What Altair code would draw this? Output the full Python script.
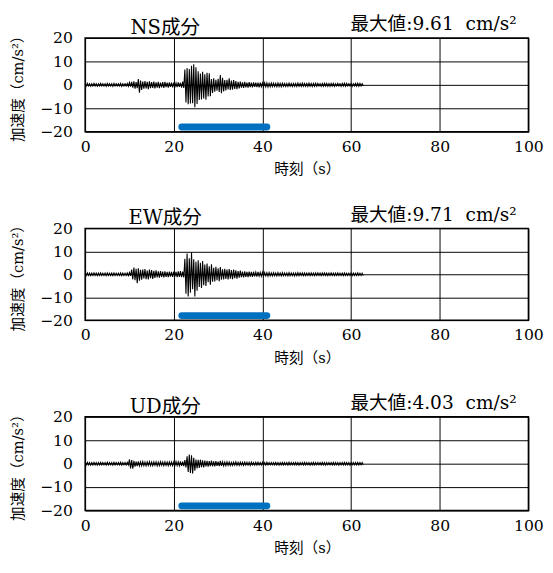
import altair as alt
import pandas as pd

# ---------------- data ----------------
STEP = 0.5  # s, sampling of the envelope readings (t = 0 ... 62.5 s)

# NS component: upper / lower envelope of the trace per 0.5 s
ns_hi = [0.5, 0.6, 0.5, 0.5, 0.6, 0.5, 0.5, 0.6, 0.5, 0.5,
         0.6, 0.5, 0.5, 0.6, 0.5, 0.5, 0.6, 0.5, 0.5, 0.6,
         1.0, 1.3, 1.5, 1.2, 2.5, 1.8, 1.4, 1.6, 1.3, 1.5,
         1.2, 1.4, 1.1, 1.3, 1.0, 1.2, 1.3, 1.0, 1.1, 0.9,
         1.0, 0.8, 1.1, 0.9, 1.4, 6.5, 7.2, 6.8, 8.2, 8.8,
         7.5, 5.8, 4.8, 5.6, 4.5, 5.2, 4.9, 2.5, 2.8, 2.2,
         2.6, 4.2, 3.0, 2.0, 2.2, 2.8, 1.8, 2.0, 1.6, 1.3,
         1.4, 1.1, 1.3, 1.0, 1.2, 0.9, 1.1, 1.0, 0.9, 1.0,
         0.8, 0.9, 0.8, 0.7, 0.8,
         0.7, 0.6, 0.8, 0.6, 0.7, 0.6, 0.6, 0.7, 0.6, 0.6,
         0.6, 0.7, 0.6, 0.7, 0.6, 0.6, 0.7, 0.6, 0.6, 0.7,
         0.6, 0.5, 0.6, 0.7, 0.6, 0.5, 0.6, 0.6, 0.5, 0.6,
         0.5, 0.6, 0.7, 0.6, 0.5, 0.6, 0.5, 0.6, 0.7, 0.6,
         0.5]
ns_lo = [-0.5, -0.5, -0.6, -0.5, -0.5, -0.6, -0.5, -0.5, -0.5, -0.6,
         -0.5, -0.5, -0.6, -0.5, -0.5, -0.5, -0.6, -0.5, -0.5, -0.6,
         -0.8, -1.2, -1.6, -1.4, -3.4, -2.2, -1.6, -1.5, -1.8, -1.4,
         -1.3, -1.5, -1.2, -1.4, -1.1, -1.3, -1.0, -1.2, -0.9, -1.1,
         -0.9, -1.0, -0.9, -1.2, -1.3, -7.5, -8.3, -8.0, -7.8, -9.6,
         -8.2, -6.5, -6.2, -5.8, -6.3, -5.0, -4.8, -3.5, -2.9, -2.5,
         -3.0, -3.6, -2.8, -2.4, -2.0, -2.2, -2.1, -1.7, -1.8, -1.5,
         -1.2, -1.3, -1.1, -1.2, -1.0, -1.1, -0.9, -1.0, -1.1, -0.8,
         -0.9, -0.8, -0.9, -0.8, -0.7,
         -0.7, -0.8, -0.7, -0.8, -0.6, -0.7, -0.7, -0.6, -0.7, -0.6,
         -0.7, -0.6, -0.7, -0.6, -0.6, -0.7, -0.6, -0.7, -0.6, -0.6,
         -0.5, -0.6, -0.6, -0.5, -0.6, -0.6, -0.5, -0.6, -0.5, -0.5,
         -0.6, -0.5, -0.6, -0.5, -0.5, -0.6, -0.5, -0.5, -0.6, -0.5,
         -0.5]

# EW component
ew_hi = [0.5, 0.6, 0.5, 0.5, 0.6, 0.5, 0.5, 0.6, 0.5, 0.5,
         0.6, 0.5, 0.5, 0.6, 0.5, 0.5, 0.6, 0.5, 0.5, 0.6,
         0.8, 2.0, 2.9, 2.4, 2.6, 1.9, 2.1, 2.3, 1.6, 2.0,
         1.8, 1.5, 1.7, 1.3, 1.4, 1.2, 1.3, 1.1, 1.2, 1.0,
         1.2, 1.0, 1.3, 1.4, 1.2, 6.8, 9.0, 7.0, 9.5, 6.5,
         5.5, 6.1, 5.0, 5.8, 4.2, 4.7, 3.5, 4.4, 2.8, 3.3,
         2.6, 3.1, 2.2, 2.4, 2.0, 2.3, 1.8, 2.0, 1.7, 1.4,
         1.6, 1.2, 1.3, 1.1, 1.2, 1.0, 1.1, 0.9, 1.0, 0.8,
         0.9, 0.8, 0.7, 0.8, 0.6,
         0.7, 0.6, 0.7, 0.6, 0.7, 0.6, 0.6, 0.7, 0.6, 0.6,
         0.6, 0.7, 0.6, 0.6, 0.6, 0.5, 0.6, 0.6, 0.5, 0.6,
         0.6, 0.5, 0.6, 0.6, 0.5, 0.5, 0.6, 0.5, 0.5, 0.6,
         0.5, 0.5, 0.6, 0.5, 0.5, 0.6, 0.5, 0.5, 0.6, 0.5,
         0.5]
ew_lo = [-0.5, -0.5, -0.6, -0.5, -0.5, -0.6, -0.5, -0.5, -0.5, -0.6,
         -0.5, -0.5, -0.6, -0.5, -0.5, -0.5, -0.6, -0.5, -0.5, -0.6,
         -0.7, -2.2, -2.6, -3.9, -2.8, -2.4, -1.8, -2.1, -2.2, -1.7,
         -2.0, -1.6, -1.4, -1.5, -1.2, -1.4, -1.1, -1.3, -1.0, -1.1,
         -1.0, -1.2, -1.1, -1.3, -1.4, -8.5, -9.7, -8.0, -6.5, -9.7,
         -7.2, -5.5, -6.0, -4.8, -5.1, -3.5, -4.6, -3.2, -3.1, -2.6,
         -3.0, -2.4, -2.3, -2.0, -2.2, -1.9, -2.1, -1.7, -1.9, -1.5,
         -1.3, -1.4, -1.1, -1.2, -1.0, -1.1, -0.9, -1.0, -0.8, -0.9,
         -0.8, -0.7, -0.8, -0.7, -0.7,
         -0.6, -0.7, -0.6, -0.7, -0.6, -0.6, -0.7, -0.6, -0.6, -0.7,
         -0.6, -0.6, -0.5, -0.6, -0.6, -0.5, -0.6, -0.5, -0.6, -0.5,
         -0.5, -0.6, -0.5, -0.5, -0.6, -0.5, -0.5, -0.6, -0.5, -0.5,
         -0.5, -0.6, -0.5, -0.5, -0.5, -0.6, -0.5, -0.5, -0.5, -0.5,
         -0.5]

# UD component
ud_hi = [0.5, 0.6, 0.5, 0.5, 0.6, 0.5, 0.5, 0.6, 0.5, 0.5,
         0.6, 0.5, 0.5, 0.6, 0.5, 0.5, 0.6, 0.5, 0.5,
         0.6, 1.8, 1.5, 1.2, 0.9, 1.0, 0.8, 0.9, 0.7, 0.8,
         0.9, 0.7, 0.8, 0.8, 0.7, 0.9, 0.7, 0.8, 0.7, 0.8,
         0.7, 0.8, 0.9, 0.8, 1.0, 0.9, 1.5, 3.2, 3.9, 3.6,
         2.5, 1.8, 1.6, 1.7, 1.4, 1.3, 1.2, 1.1, 1.3, 1.0,
         1.1, 0.9, 1.2, 0.8, 0.7, 0.8, 0.7, 0.6, 0.7, 0.8,
         0.6, 0.7, 0.6, 0.7, 0.6, 0.6, 0.7, 0.5, 0.6, 0.6,
         0.5, 0.6, 0.5, 0.6, 0.5, 0.5,
         0.5, 0.6, 0.5, 0.5, 0.6, 0.5, 0.5, 0.6, 0.5, 0.5,
         0.6, 0.5, 0.5, 0.5, 0.6, 0.5, 0.5, 0.5, 0.6, 0.5,
         0.5, 0.5, 0.6, 0.5, 0.5, 0.5, 0.5, 0.6, 0.5, 0.5,
         0.5, 0.5, 0.6, 0.5, 0.5, 0.5, 0.5, 0.5, 0.6, 0.5,
         0.5]
ud_lo = [-0.5, -0.5, -0.6, -0.5, -0.5, -0.6, -0.5, -0.5, -0.5, -0.6,
         -0.5, -0.5, -0.6, -0.5, -0.5, -0.5, -0.6, -0.5, -0.5,
         -0.5, -2.0, -2.1, -1.3, -1.0, -0.9, -0.9, -0.8, -0.9, -0.7,
         -0.8, -0.8, -0.7, -0.9, -0.8, -0.7, -0.8, -0.7, -0.8, -0.7,
         -0.8, -0.8, -0.8, -0.9, -0.9, -1.0, -1.6, -3.5, -4.0, -4.2,
         -3.0, -2.0, -1.8, -1.5, -1.6, -1.2, -1.3, -1.0, -1.1, -1.1,
         -0.9, -1.0, -0.9, -0.9, -0.8, -0.7, -0.8, -0.7, -0.6, -0.7,
         -0.7, -0.6, -0.7, -0.6, -0.6, -0.7, -0.5, -0.6, -0.6, -0.5,
         -0.6, -0.5, -0.6, -0.5, -0.5, -0.5,
         -0.5, -0.5, -0.6, -0.5, -0.5, -0.5, -0.6, -0.5, -0.5, -0.5,
         -0.5, -0.6, -0.5, -0.5, -0.5, -0.5, -0.6, -0.5, -0.5, -0.5,
         -0.5, -0.5, -0.5, -0.6, -0.5, -0.5, -0.5, -0.5, -0.5, -0.6,
         -0.5, -0.5, -0.5, -0.5, -0.6, -0.5, -0.5, -0.5, -0.5, -0.5,
         -0.5]

components = ["NS成分", "EW成分", "UD成分"]
peaks = ["9.61", "9.71", "4.03"]
window_start = [21.8, 21.8, 21.8]   # s, analysis window (blue bar)
window_end = [41.0, 41.0, 41.0]
window_level = -18

x_ticks = [0, 20, 40, 60, 80, 100]
y_ticks = [-20, -10, 0, 10, 20]

# ---------------- chart ----------------
FONT = "DejaVu Serif, Noto Sans CJK JP, serif"
W = 454
HEIGHTS = [96, 94, 96]


def panel(hi, lo, name, peak, ws, we, h):
    # the trace swings between the upper and the lower reading of every 0.5 s step
    ts, vs = [], []
    for i in range(len(hi)):
        ts += [i * STEP, i * STEP + STEP / 2]
        vs += [hi[i], lo[i]]
    df = pd.DataFrame({"t": ts, "v": vs})
    x = alt.X("t:Q", scale=alt.Scale(domain=[0, 100], nice=False),
              axis=alt.Axis(values=x_ticks, title="時刻（s）", grid=True,
                            labelPadding=7, titlePadding=8))
    y = alt.Y("v:Q", scale=alt.Scale(domain=[-20, 20], nice=False),
              axis=alt.Axis(values=y_ticks, title="加速度（cm/s²）", grid=True,
                            labelPadding=13, titlePadding=14))
    wave = alt.Chart(df).mark_line(color="black", strokeWidth=1.1).encode(
        x=x, y=y, order="t:Q")
    bar_df = pd.DataFrame({"t": [ws], "t2": [we], "v": [window_level]})
    bar = alt.Chart(bar_df).mark_rule(color="#0070C0", strokeWidth=7,
                                      strokeCap="round").encode(
        x=x, x2="t2:Q", y=y)
    name_txt = alt.Chart(pd.DataFrame({"s": [name]})).mark_text(
        align="center", baseline="alphabetic", fontSize=20, font=FONT,
        color="black").encode(text="s:N", x=alt.value(82), y=alt.value(-4))
    peak_txt = alt.Chart(pd.DataFrame({"s": [f"最大値:{peak}\u00a0\u00a0cm/s²"]})).mark_text(
        align="right", baseline="alphabetic", fontSize=19, font=FONT,
        color="black").encode(text="s:N", x=alt.value(W - 12), y=alt.value(-8))
    return alt.layer(wave, bar, name_txt, peak_txt).properties(width=W, height=h)


panels = [
    panel(ns_hi, ns_lo, components[0], peaks[0], window_start[0], window_end[0], HEIGHTS[0]),
    panel(ew_hi, ew_lo, components[1], peaks[1], window_start[1], window_end[1], HEIGHTS[1]),
    panel(ud_hi, ud_lo, components[2], peaks[2], window_start[2], window_end[2], HEIGHTS[2]),
]

chart = alt.vconcat(*panels, spacing=28).properties(
    padding={"left": 2, "top": 0, "right": 0, "bottom": 0}
).configure_view(stroke="black", strokeWidth=1.5).configure_axis(
    labelFont=FONT, labelFontSize=16, labelColor="black",
    titleFont=FONT, titleFontSize=15, titleColor="black", titleFontWeight="normal",
    gridColor="black", gridOpacity=1, gridWidth=1,
    domain=False, ticks=False, labelOverlap=False, labelFlush=False, labelBound=False
)

chart.save("out.html", embed_options={"renderer": "svg", "actions": False})
